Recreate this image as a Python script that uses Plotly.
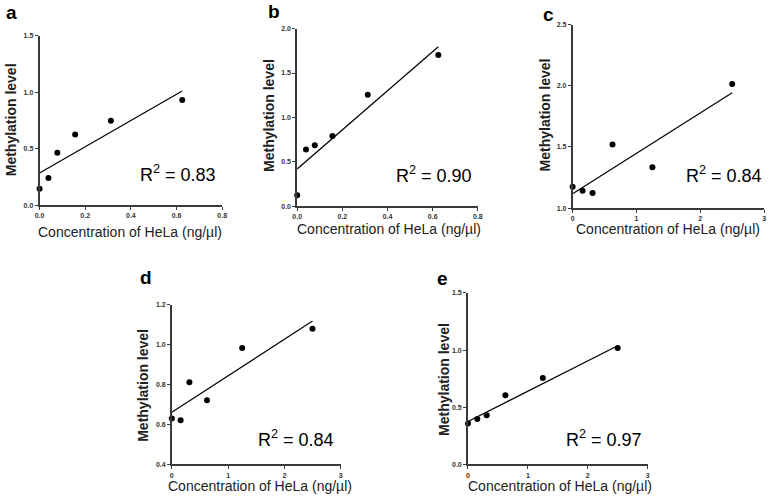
import plotly.graph_objects as go

# ---- data ----
panels = ["a", "b", "c", "d", "e"]
x_low = [0, 0.039, 0.078, 0.156, 0.3125, 0.625]
x_high = [0, 0.156, 0.3125, 0.625, 1.25, 2.5]
y_a = [0.145, 0.24, 0.464, 0.624, 0.746, 0.931]
y_b = [0.122, 0.637, 0.685, 0.789, 1.256, 1.704]
y_c = [1.174, 1.142, 1.123, 1.52, 1.335, 2.015]
y_d = [0.63, 0.622, 0.812, 0.722, 0.983, 1.08]
y_e = [0.358, 0.398, 0.43, 0.606, 0.756, 1.018]
fit_start = [0.284, 0.419, 1.117, 0.661, 0.375]
fit_end = [1.01, 1.796, 1.943, 1.118, 1.038]
r2_labels = ["0.83", "0.90", "0.84", "0.84", "0.97"]
x_ranges = [[0, 0.8], [0, 0.8], [0, 3], [0, 3], [0, 3]]
y_ranges = [[0, 1.5], [0, 2.0], [1.0, 2.5], [0.4, 1.2], [0, 1.5]]
x_dtick = [0.2, 0.2, 1, 1, 1]
y_dtick = [0.5, 0.5, 0.5, 0.2, 0.5]
x_fmt = [".1f", ".1f", "d", "d", "d"]

xs = [x_low, x_low, x_high, x_high, x_high]
ys = [y_a, y_b, y_c, y_d, y_e]

W, H = 778, 500
# plot areas in pixels: (left, right, top, bottom)
boxes = [(35, 220, 32, 204), (296, 479, 25, 205), (575, 769, 21, 207),
         (169, 340, 305, 467), (469, 651, 293, 467)]
label_pos = [(7, 9), (272, 8), (551, 11), (143, 277), (443, 278)]
r2_pos = [(175, 172), (435, 173), (728, 173), (295, 441), (607, 441)]
xt_pos = [(127, 231), (389, 228), (672, 228), (258, 489), (562, 489)]
yt_pos = [(6, 117), (268, 113), (547, 112), (139, 387), (444, 381)]

FONT = "Liberation Sans, Arial, sans-serif"
AX = "#3a3a3a"

fig = go.Figure()
ann = []

def px(x):
    return x / W

def py(y):
    return 1 - y / H

def note(text, pos, size, color="black", angle=0):
    return dict(text=text, x=px(pos[0]), y=py(pos[1]), xref="paper", yref="paper",
                xanchor="center", yanchor="middle", showarrow=False, textangle=angle,
                font=dict(family=FONT, size=size, color=color))

for i, p in enumerate(panels):
    n = "" if i == 0 else str(i + 1)
    xa, ya = "x" + n, "y" + n
    fig.add_trace(go.Scatter(x=xs[i], y=ys[i], mode="markers",
                             marker=dict(color="black", size=6),
                             xaxis=xa, yaxis=ya, showlegend=False,
                             cliponaxis=False))
    fig.add_trace(go.Scatter(x=[xs[i][0], xs[i][-1]], y=[fit_start[i], fit_end[i]],
                             mode="lines", line=dict(color="black", width=1.2),
                             xaxis=xa, yaxis=ya, showlegend=False,
                             cliponaxis=False))
    l, r, t, b = boxes[i]
    common = dict(showline=True, linecolor=AX, linewidth=1.6, ticks="outside",
                  ticklen=3, tickwidth=1.2, tickcolor=AX, showgrid=False,
                  zeroline=False,
                  tickfont=dict(family=FONT, size=7, color="#333", weight="bold"))
    fig.layout["xaxis" + n] = dict(domain=[px(l), px(r)], range=x_ranges[i],
                                   dtick=x_dtick[i], tick0=0, tickformat=x_fmt[i],
                                   anchor=ya, **common)
    fig.layout["yaxis" + n] = dict(domain=[py(b), py(t)], range=y_ranges[i],
                                   dtick=y_dtick[i], tick0=0, tickformat=".1f",
                                   anchor=xa, **common)
    ann.append(note("<b>%s</b>" % p, label_pos[i], 19))
    ann.append(note("R<sup>2</sup> = %s" % r2_labels[i], r2_pos[i], 18))
    ann.append(note("Concentration of HeLa (ng/µl)", xt_pos[i], 14, "#222"))
    ann.append(note("<b>Methylation level</b>", yt_pos[i], 14, "#222", -90))

fig.update_layout(width=W, height=H, margin=dict(l=0, r=0, t=0, b=0),
                  paper_bgcolor="white", plot_bgcolor="white",
                  annotations=ann)

fig.write_html("out.html", config={"displayModeBar": False},
               post_script="document.body.style.margin='0';document.body.style.padding='0';")
